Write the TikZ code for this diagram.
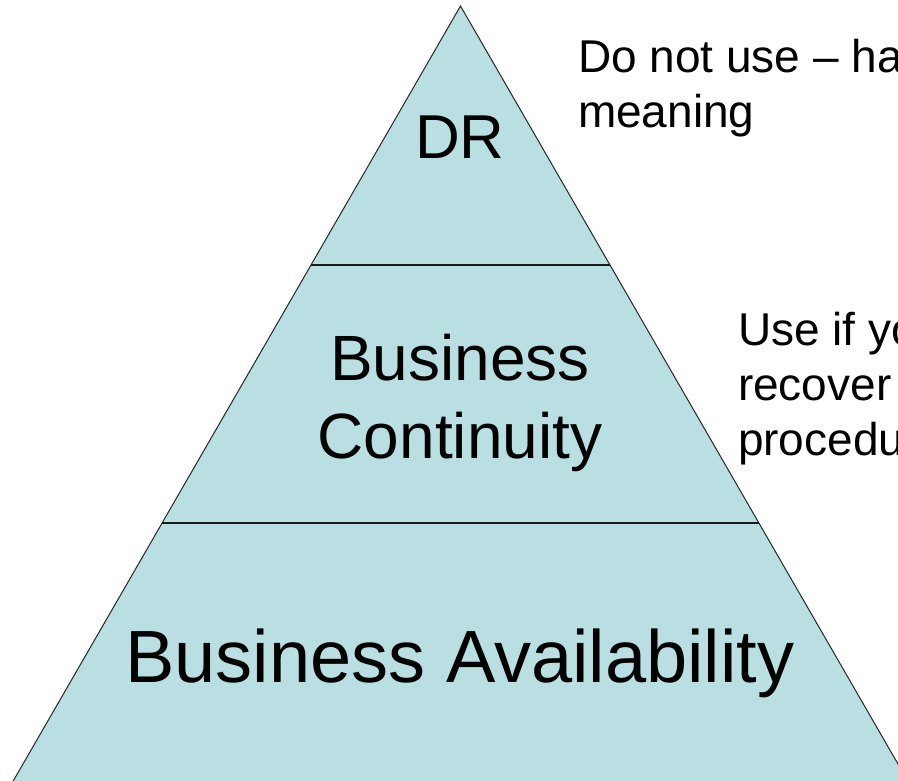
\documentclass[tikz,border=0pt]{standalone}
\usepackage{fontspec}
\setmainfont{Liberation Sans}
\definecolor{pyrfill}{HTML}{B9DFE3}
\tikzset{
  lbl/.style={inner sep=0pt, outer sep=0pt, text=black},
  side/.style={draw=black!85, line width=1pt},
  tierline/.style={draw=black!90, line width=1.8pt},
}
\begin{document}
\begin{tikzpicture}[x=1pt,y=-1pt]
\useasboundingbox (0,0) rectangle (898,781);
\clip (0,0) rectangle (898,781);
% pyramid
\coordinate (apex) at (460.5,6);
\coordinate (bl) at (8,790);
\coordinate (br) at (913,790);
\fill[pyrfill] (apex) -- (br) -- (bl) -- cycle;
\draw[side] (bl) -- (apex) -- (br);
\coordinate (l1a) at (311,265);
\coordinate (l1b) at (610,265);
\coordinate (l2a) at (162,523);
\coordinate (l2b) at (759,523);
\draw[tierline] (l1a) -- (l1b);
\draw[tierline] (l2a) -- (l2b);
% labels inside
\node[lbl, anchor=base, font=\fontsize{62}{74}\selectfont] (dr) at (460,159) {DR};
\node[lbl, anchor=base, font=\fontsize{64}{78}\selectfont] (bc1) at (460,380) {Business};
\node[lbl, anchor=base, font=\fontsize{64}{78}\selectfont] (bc2) at (460,458) {Continuity};
\node[lbl, anchor=base, font=\fontsize{74}{88}\selectfont] (ba) at (460,682) {Business Availability};
% side notes
\node[lbl, anchor=base west, font=\fontsize{46}{55}\selectfont] (n1a) at (578,73) {Do not use – has};
\node[lbl, anchor=base west, font=\fontsize{46}{55}\selectfont] (n1b) at (578,128) {meaning};
\node[lbl, anchor=base west, font=\fontsize{46}{55}\selectfont] (n2a) at (738,345) {Use if you};
\node[lbl, anchor=base west, font=\fontsize{46}{55}\selectfont] (n2b) at (738,400) {recover};
\node[lbl, anchor=base west, font=\fontsize{46}{55}\selectfont] (n2c) at (738,455) {procedu};
\end{tikzpicture}
\end{document}
